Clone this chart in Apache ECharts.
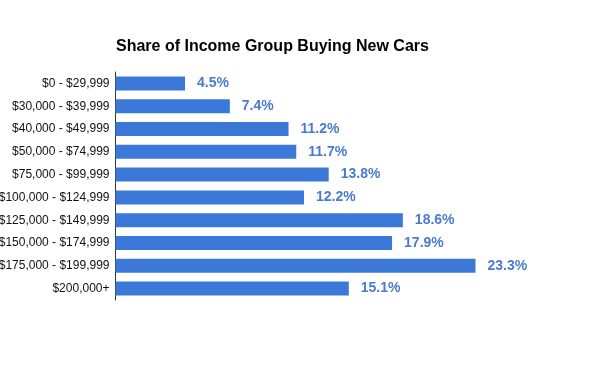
<!DOCTYPE html>
<html>
<head>
<meta charset="utf-8">
<script src="https://cdn.jsdelivr.net/npm/echarts@6/dist/echarts.min.js"></script>
<style>
    html, body { margin: 0; padding: 0; background: #fff; }
    #mainChart { width: 600px; height: 371px; }
</style>
</head>
<body>
<div id="mainChart"></div>
<script>
const incomeGroups = [
    '$0 - $29,999', '$30,000 - $39,999', '$40,000 - $49,999', '$50,000 - $74,999',
    '$75,000 - $99,999', '$100,000 - $124,999', '$125,000 - $149,999',
    '$150,000 - $174,999', '$175,000 - $199,999', '$200,000+'
];
const shareValues = [4.5, 7.4, 11.2, 11.7, 13.8, 12.2, 18.6, 17.9, 23.3, 15.1];

const myChart = echarts.init(document.getElementById('mainChart'));
const option = {
    animation: false,
    title: {
        text: 'Share of Income Group Buying New Cars',
        left: 111,
        top: 34,
        textStyle: {
            fontFamily: 'Liberation Sans, Arial, sans-serif',
            fontSize: 16,
            fontWeight: 'bold',
            color: '#000'
        }
    },
    grid: {
        left: 115.5,
        top: 72,
        width: 463.5,
        height: 228,
        outerBoundsMode: 'none',
        containLabel: false
    },
    xAxis: {
        type: 'value',
        min: 0,
        max: 30,
        axisLine: { show: false },
        axisTick: { show: false },
        axisLabel: { show: false },
        splitLine: { show: false }
    },
    yAxis: {
        type: 'category',
        inverse: true,
        data: incomeGroups,
        axisLine: { show: true, lineStyle: { color: '#333', width: 1 } },
        axisTick: { show: false },
        axisLabel: {
            margin: 6,
            fontFamily: 'Liberation Sans, Arial, sans-serif',
            fontSize: 12,
            color: '#111'
        }
    },
    series: [
        {
            type: 'bar',
            data: shareValues,
            barWidth: 14,
            itemStyle: { color: '#3c78d8' },
            label: {
                show: true,
                position: 'right',
                distance: 12,
                formatter: '{c}%',
                fontFamily: 'Liberation Sans, Arial, sans-serif',
                fontSize: 14,
                fontWeight: 'bold',
                color: '#4a7bd0'
            }
        }
    ]
};
myChart.setOption(option);
</script>
</body>
</html>
